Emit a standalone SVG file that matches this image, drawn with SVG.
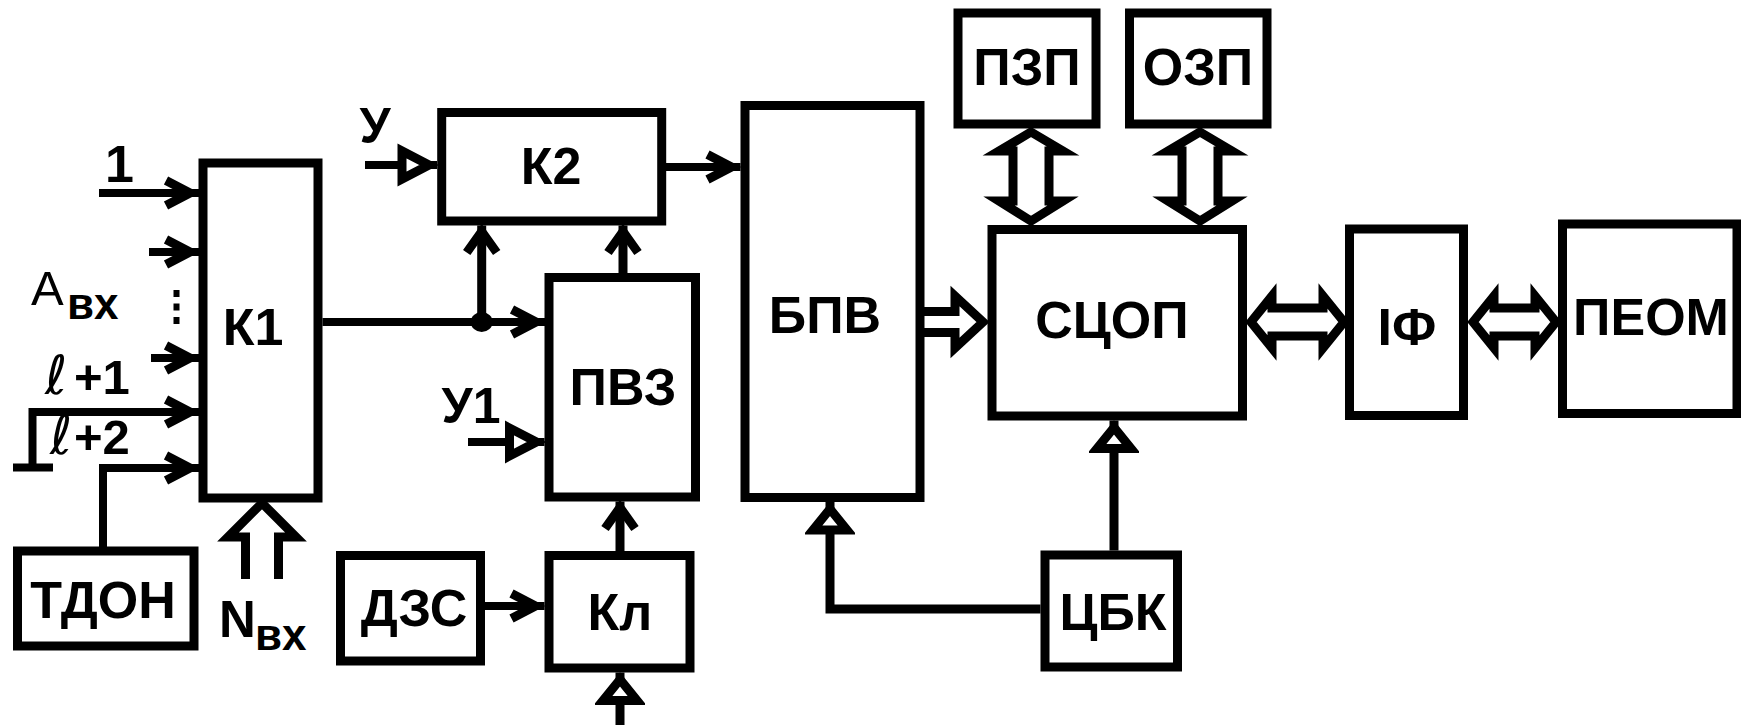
<svg xmlns="http://www.w3.org/2000/svg" width="1741" height="725" viewBox="0 0 1741 725">
<style>
.box{fill:#fff;stroke:#000;stroke-width:9}
.lbl{font-family:"Liberation Sans",Arial,sans-serif;font-weight:bold;font-size:52px;text-anchor:middle;fill:#000}
.sm{font-family:"Liberation Sans",Arial,sans-serif;fill:#000}
.ell{font-family:"DejaVu Sans","Liberation Sans",sans-serif;font-style:italic;fill:#000}
.ln{fill:none;stroke:#000;stroke-width:8;stroke-linejoin:miter}
.lv{fill:none;stroke:#000;stroke-width:9;stroke-linejoin:miter}
.hol{fill:#fff;stroke:#000;stroke-width:9;stroke-linejoin:miter;stroke-miterlimit:8}
.hoo{fill:none;stroke:#000;stroke-width:9;stroke-linejoin:miter;stroke-miterlimit:8}
.ch{marker-end:url(#chevH)}
.cv{marker-end:url(#chevV)}
.th{marker-end:url(#triH)}
.tv{marker-end:url(#triV)}
</style>
<defs>
<marker id="chevH" markerUnits="userSpaceOnUse" orient="auto" viewBox="-45 -25 50 50" markerWidth="50" markerHeight="50" refX="0" refY="0">
<path d="M-33,-12.5 L-9,0 L-33,12.5" fill="none" stroke="#000" stroke-width="9"/>
</marker>
<marker id="chevV" markerUnits="userSpaceOnUse" orient="auto" viewBox="-45 -25 50 50" markerWidth="50" markerHeight="50" refX="0" refY="0">
<path d="M-27,-15 L-6,0 L-27,15" fill="none" stroke="#000" stroke-width="9"/>
</marker>
<marker id="triH" markerUnits="userSpaceOnUse" orient="auto" viewBox="-45 -25 50 50" markerWidth="50" markerHeight="50" refX="0" refY="0">
<path d="M-8,0 L-35,-14 L-35,14 Z" fill="#fff" stroke="#000" stroke-width="9"/>
</marker>
<marker id="triV" markerUnits="userSpaceOnUse" orient="auto" viewBox="-45 -25 50 50" markerWidth="50" markerHeight="50" refX="0" refY="0">
<path d="M-7,0 L-28,-17 L-28,17 Z" fill="#fff" stroke="#000" stroke-width="9"/>
</marker>
</defs>
<rect width="1741" height="725" fill="#fff"/>

<g id="connectors">
<path class="ln ch" d="M99,193 H199"/>
<path class="ln ch" d="M149,252 H199"/>
<path class="ln ch" d="M151,358 H199"/>
<path class="ln ch" d="M32.5,467 V412 H199"/>
<path class="ln" d="M13,467.5 H53"/>
<path class="ln ch" d="M103,547 V468 H199"/>
<rect x="173.5" y="290" width="6" height="7"/>
<rect x="173.5" y="303.5" width="6" height="7"/>
<rect x="173.5" y="317" width="6" height="7"/>
<path class="hoo" d="M245.5,579 V537 H228 L262,503 L296,537 H278.5 V579"/>
<path class="ln ch" d="M322.5,322 H545"/>
<path class="lv cv" d="M481.7,322 V225.5"/>
<ellipse cx="481.7" cy="322" rx="11" ry="10"/>
<path class="ln th" d="M365,165 H437"/>
<path class="ln ch" d="M666,167 H740.5"/>
<path class="lv cv" d="M623,273 V225.5"/>
<path class="ln th" d="M468,442 H544.5"/>
<path class="ln ch" d="M485,606 H544.5"/>
<path class="lv cv" d="M620,551 V501.5"/>
<path class="lv tv" d="M620,725 V672.5"/>
<path class="hoo" d="M920,311.5 H955 V296 L983,322 L955,348 V332.5 H920"/>
<path class="hol" d="M1031,132 L1063,151 H1049 V201 H1063 L1031,221 L999,201 H1013 V151 H999 Z"/>
<path class="hol" d="M1200,132 L1232,151 H1218 V201 H1232 L1200,221 L1168,201 H1182 V151 H1168 Z"/>
<path class="lv tv" d="M1114,550.5 V420.5"/>
<path class="lv tv" d="M1040.5,609 H830 V502"/>
<path class="hol" d="M1251,322 L1272,296 V308 H1323 V296 L1344,322 L1323,348 V336 H1272 V348 Z"/>
<path class="hol" d="M1473,322 L1494,296 V308 H1535 V296 L1556,322 L1535,348 V336 H1494 V348 Z"/>
</g>

<g id="n-k1"><rect class="box" x="203" y="163" width="115" height="335"/><text class="lbl" x="253" y="345">К1</text></g>
<g id="n-tdon"><rect class="box" x="17.5" y="551" width="176.5" height="95"/><text class="lbl" x="103" y="618" font-size="53">ТДОН</text></g>
<g id="n-k2"><rect class="box" x="441.7" y="112.5" width="220" height="108.5"/><text class="lbl" x="551" y="184">К2</text></g>
<g id="n-pvz"><rect class="box" x="549" y="277.5" width="146.5" height="219.5"/><text class="lbl" x="623" y="405">ПВЗ</text></g>
<g id="n-dzs"><rect class="box" x="340.5" y="555.5" width="140" height="105.5"/><text class="lbl" x="414" y="626">ДЗС</text></g>
<g id="n-kl"><rect class="box" x="549" y="555.5" width="141" height="112.5"/><text class="lbl" x="620" y="630">Кл</text></g>
<g id="n-bpv"><rect class="box" x="745" y="105.5" width="175" height="392"/><text class="lbl" x="825" y="333">БПВ</text></g>
<g id="n-pzp"><rect class="box" x="958" y="13" width="138" height="111"/><text class="lbl" x="1027" y="85">ПЗП</text></g>
<g id="n-ozp"><rect class="box" x="1129.5" y="13" width="137.5" height="111"/><text class="lbl" x="1198" y="85">ОЗП</text></g>
<g id="n-scop"><rect class="box" x="992" y="229.5" width="250.5" height="186.5"/><text class="lbl" x="1112" y="338">СЦОП</text></g>
<g id="n-cbk"><rect class="box" x="1045" y="555" width="132.5" height="112"/><text class="lbl" x="1113" y="630">ЦБК</text></g>
<g id="n-if"><rect class="box" x="1349.5" y="229" width="114" height="186.5"/><text class="lbl" x="1407" y="345">ІФ</text></g>
<g id="n-peom"><rect class="box" x="1562.5" y="224" width="174.5" height="189.5"/><text class="lbl" x="1651" y="335">ПЕОМ</text></g>

<g id="labels">
<text class="sm" x="105" y="182" font-size="52" font-weight="bold">1</text>
<text class="sm" x="31" y="305" font-size="49">А</text>
<text class="sm" x="67" y="318.5" font-size="44" font-weight="bold">вх</text>
<text class="ell" x="45" y="394" font-size="54">ℓ</text>
<text class="sm" x="74" y="394" font-size="49" font-weight="bold">+1</text>
<text class="ell" x="50" y="453.5" font-size="54">ℓ</text>
<text class="sm" x="74" y="453.5" font-size="49" font-weight="bold">+2</text>
<text class="sm" x="219" y="637" font-size="51" font-weight="bold">N</text>
<text class="sm" x="255" y="650" font-size="44" font-weight="bold">вх</text>
<text class="sm" x="375" y="143" font-size="50" font-weight="bold" text-anchor="middle">У</text>
<text class="sm" x="471" y="423" font-size="50" font-weight="bold" text-anchor="middle">У1</text>
</g>
</svg>
